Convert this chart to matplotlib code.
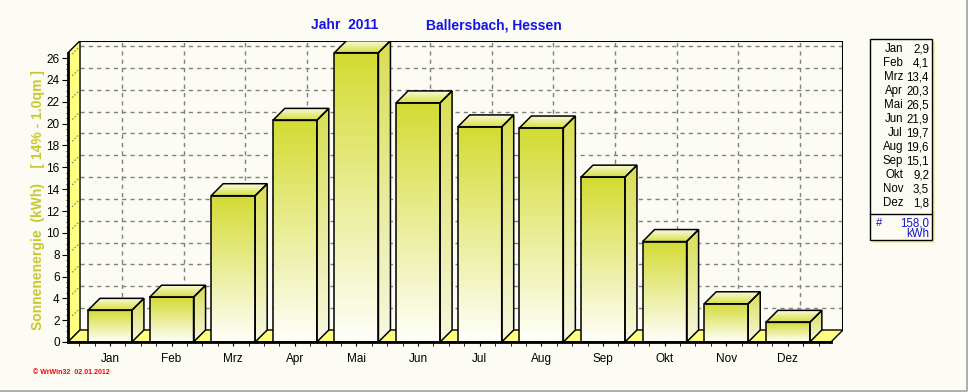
import numpy as np
import matplotlib
matplotlib.use("Agg")
import matplotlib.pyplot as plt
from matplotlib.patches import Polygon, Rectangle
from matplotlib.lines import Line2D
from matplotlib.colors import to_rgb

months = ["Jan", "Feb", "Mrz", "Apr", "Mai", "Jun", "Jul", "Aug", "Sep", "Okt", "Nov", "Dez"]
energy = [2.9, 4.1, 13.4, 20.3, 26.5, 21.9, 19.7, 19.6, 15.1, 9.2, 3.5, 1.8]
total = 158.0
title_left = "Jahr  2011"
title_right = "Ballersbach, Hessen"
ylabel = "Sonnenenergie  (kWh)    [ 14% - 1.0qm ]"
footer = "\u00a9 WrWin32  02.01.2012"

plt.rcParams['font.family'] = ['Liberation Sans', 'DejaVu Sans']

BG = "#fcfcf4"
WALL = "#ffff80"
FRONT_TOP = (0.83, 0.86, 0.20)
SIDE_TOP = (0.85, 0.87, 0.33)
WHITE = (1.0, 1.0, 0.98)

W, H = 968, 392
fig = plt.figure(figsize=(W / 100, H / 100), dpi=100, facecolor=BG)

# axes: front plane + depth
x0, x1 = -0.68, 11.70
ytop = 26.5
dx, dy = 0.195, 1.1
ax = fig.add_axes([68 / W, (H - 342) / H, 775 / W, 301.3 / H], facecolor=BG)
ax.set_xlim(x0, x1 + dx)
ax.set_ylim(0, ytop + dy)


def grad_poly(verts, c_top, c_bot, z):
    verts = np.array(verts)
    poly = Polygon(verts, closed=True, facecolor="none", edgecolor="black", lw=1.1, zorder=z + 0.1)
    ax.add_patch(poly)
    n = 64
    t = np.linspace(0, 1, n)[:, None]
    a, b = np.array(to_rgb(c_top)), np.array(to_rgb(c_bot))
    img = (a * (1 - t) + b * t)[:, None, :]
    xmin, xmax = verts[:, 0].min(), verts[:, 0].max()
    ymin, ymax = verts[:, 1].min(), verts[:, 1].max()
    im = ax.imshow(img, extent=(xmin, xmax, ymin, ymax), origin="upper",
                   aspect="auto", interpolation="bilinear", zorder=z)
    im.set_clip_path(poly)


# back wall grid
for v in range(2, 27, 2):
    ax.plot([x0 + dx, x1 + dx], [v + dy, v + dy], ls=(0, (3, 3)), color="#808080", lw=1, zorder=1)
    ax.plot([x0 + dx * 0.35, x0 + dx * 0.95], [v + dy * 0.35, v + dy * 0.95],
            ls=(0, (1.5, 1.5)), color="#808080", lw=0.8, zorder=2.2)
for i in range(len(months)):
    ax.plot([i + dx, i + dx], [dy, ytop + dy], ls=(0, (3, 3)), color="#808080", lw=1, zorder=1)
ax.plot([x0 + dx, x1 + dx, x1 + dx], [ytop + dy, ytop + dy, dy], color="black", lw=1.5, zorder=1.5)

# left wall and floor
ax.add_patch(Polygon([(x0, 0), (x0 + dx, dy), (x0 + dx, ytop + dy), (x0, ytop)],
                     facecolor=WALL, edgecolor="black", lw=1, zorder=2))
ax.add_patch(Polygon([(x0, 0), (x1, 0), (x1 + dx, dy), (x0 + dx, dy)],
                     facecolor=WALL, edgecolor="black", lw=1, zorder=2))

# bars
bw = 0.714
for i, v in enumerate(energy):
    l, r = i - bw / 2, i + bw / 2
    grad_poly([(l, 0), (r, 0), (r, v), (l, v)], FRONT_TOP, WHITE, 3)
    grad_poly([(r, 0), (r + dx, dy), (r + dx, v + dy), (r, v)], SIDE_TOP, (0.97, 0.97, 0.88), 3)
    grad_poly([(l, v), (r, v), (r + dx, v + dy), (l + dx, v + dy)], (0.99, 0.99, 0.90), (0.84, 0.87, 0.25), 3)

ax.set_xlim(x0, x1 + dx)
ax.set_ylim(0, ytop + dy)

for s in ["top", "right"]:
    ax.spines[s].set_visible(False)
ax.spines["left"].set_bounds(0, ytop)
ax.spines["left"].set_linewidth(2)
ax.spines["bottom"].set_bounds(x0, x1)
ax.spines["bottom"].set_linewidth(2)
ax.spines["left"].set_zorder(5)
ax.spines["bottom"].set_zorder(5)

ax.set_yticks(range(0, 27, 2))
ax.set_yticks(np.arange(0, 26.5, 0.5), minor=True)
ax.set_xticks(range(len(months)))
ax.set_xticklabels(months)
ax.set_xticks([i + k for i in range(len(months)) for k in (-0.5, -0.25, 0.25)] + [11.25, 11.5], minor=True)
ax.tick_params(axis="y", which="major", length=4, pad=2, labelsize=8.5)
ax.tick_params(axis="y", which="minor", length=1.5)
ax.tick_params(axis="x", which="major", length=3, pad=5, labelsize=8.5)
ax.tick_params(axis="x", which="minor", length=3)

fig.text(38 / W, 1 - 200 / H, ylabel, rotation=90, ha="center", va="center",
         color="#c8c832", fontsize=10, fontweight="bold")

fig.text(345 / W, 1 - 25 / H, title_left, ha="center", va="center", color="#1414e6",
         fontsize=10, fontweight="bold")
fig.text(494 / W, 1 - 25 / H, title_right, ha="center", va="center", color="#1414e6",
         fontsize=10, fontweight="bold")

fig.text(33 / W, 1 - 372 / H, footer, ha="left", va="center", color="red",
         fontsize=5, fontweight="bold")

# legend box
fig.add_artist(Rectangle((873 / W, 1 - 243 / H), 62 / W, 201 / H, transform=fig.transFigure,
                         facecolor="#eeeeb0", edgecolor="none", zorder=1))
fig.add_artist(Rectangle((870 / W, 1 - 240 / H), 62 / W, 201 / H, transform=fig.transFigure,
                         facecolor=BG, edgecolor="black", lw=1, zorder=2))
fig.add_artist(Line2D([870 / W, 932 / W], [1 - 214 / H, 1 - 214 / H], transform=fig.transFigure,
                      color="black", lw=1, zorder=3))
for k, (m, v) in enumerate(zip(months, energy)):
    yy = 1 - (49 + 14 * k) / H
    fig.text(903 / W, yy, m, ha="right", va="center", fontsize=8.3, zorder=4)
    fig.text(929 / W, yy, f"{v:.1f}".replace(".", ","), ha="right", va="center", fontsize=8.3, zorder=4)
fig.text(876 / W, 1 - 223 / H, "#", ha="left", va="center", fontsize=8, color="#1414c8", zorder=4)
fig.text(929 / W, 1 - 223 / H, f"{total:.1f}".replace(".", ","), ha="right", va="center",
         fontsize=8.3, color="#1414c8", zorder=4)
fig.text(929 / W, 1 - 234 / H, "kWh", ha="right", va="center", fontsize=8.3, color="#1414c8", zorder=4)

# window frame
fig.add_artist(Line2D([0, 966.5 / W, 966.5 / W], [0.6 / H, 0.6 / H, 1], transform=fig.transFigure,
                      color="#a0a0a0", lw=1.2))

fig.savefig("out.png", dpi=100, facecolor=BG)
